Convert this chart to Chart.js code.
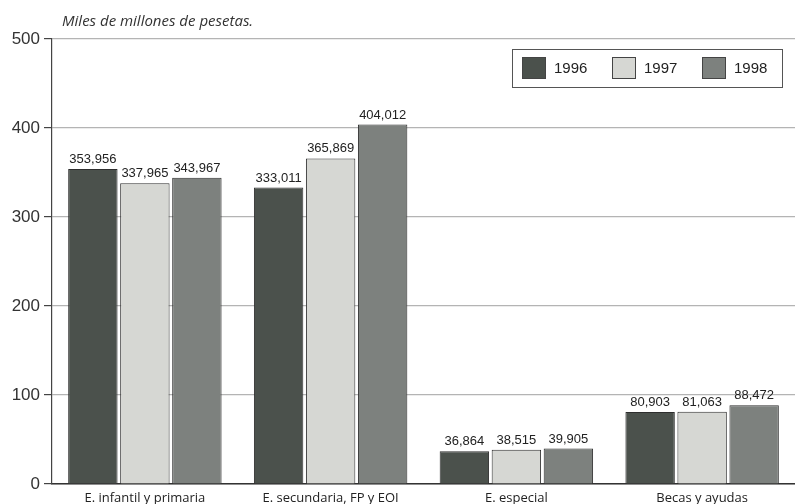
<!DOCTYPE html>
<html>
<head>
<meta charset="utf-8">
<script src="https://cdn.jsdelivr.net/npm/chart.js@4/dist/chart.umd.min.js"></script>
<style>
  html, body { margin: 0; padding: 0; background: #fff; }
  #wrap { position: relative; width: 795px; height: 504px; }
</style>
</head>
<body>
<div id="wrap"><canvas id="c" width="795" height="504"></canvas></div>
<script>
const categories = ["E. infantil y primaria", "E. secundaria, FP y EOI", "E. especial", "Becas y ayudas"];
const seriesNames = ["1996", "1997", "1998"];
const values1996 = [353.956, 333.011, 36.864, 80.903];
const values1997 = [337.965, 365.869, 38.515, 81.063];
const values1998 = [343.967, 404.012, 39.905, 88.472];
const yTicks = [0, 100, 200, 300, 400, 500];
const unitLabel = "Miles de millones de pesetas.";

const colors = ["#4b514c", "#d6d7d3", "#7d817e"];
const seriesValues = [values1996, values1997, values1998];

function fmt(v) {
  return v.toFixed(3).replace('.', ',');
}

const labelsPlugin = {
  id: 'valueLabels',
  afterDatasetsDraw(chart) {
    const ctx = chart.ctx;
    ctx.save();
    ctx.font = '13px "Liberation Sans Narrow", "Liberation Sans", Arial, sans-serif';
    ctx.fillStyle = '#222';
    ctx.textAlign = 'center';
    ctx.textBaseline = 'bottom';
    chart.data.datasets.forEach((ds, i) => {
      const meta = chart.getDatasetMeta(i);
      meta.data.forEach((bar, j) => {
        ctx.fillText(fmt(ds.data[j]), bar.x, bar.y - 3);
      });
    });
    // unit label
    ctx.font = 'italic 15px "Open Sans", "DejaVu Sans", sans-serif';
    ctx.fillStyle = '#333';
    ctx.textAlign = 'left';
    ctx.textBaseline = 'middle';
    ctx.fillText(unitLabel, chart.chartArea.left + 10, 22);
    // legend box
    const lx = 512, ly = 49, lw = 270, lh = 38;
    ctx.strokeStyle = '#555';
    ctx.lineWidth = 1;
    ctx.strokeRect(lx + 0.5, ly + 0.5, lw, lh);
    ctx.font = '15px "Liberation Sans", Arial, sans-serif';
    ctx.textBaseline = 'middle';
    const itemX = [lx + 10, lx + 100, lx + 190];
    chart.data.datasets.forEach((ds, i) => {
      const x = itemX[i];
      ctx.fillStyle = ds.backgroundColor;
      ctx.fillRect(x, ly + 8, 24, 22);
      ctx.strokeStyle = '#444';
      ctx.strokeRect(x + 0.5, ly + 8.5, 23, 21);
      ctx.fillStyle = '#222';
      ctx.fillText(ds.label, x + 32, ly + lh / 2 + 1);
    });
    ctx.restore();
  }
};

new Chart(document.getElementById('c'), {
  type: 'bar',
  data: {
    labels: categories,
    datasets: seriesNames.map((name, i) => ({
      label: name,
      data: seriesValues[i],
      backgroundColor: colors[i],
      borderColor: '#2e2e2e',
      borderWidth: 1,
      categoryPercentage: 0.84,
      barPercentage: 0.95
    }))
  },
  options: {
    responsive: false,
    animation: false,
    layout: { padding: { top: 39, right: -8, left: 0, bottom: 0 } },
    plugins: {
      legend: { display: false },
      tooltip: { enabled: false }
    },
    scales: {
      x: {
        grid: { display: false, drawTicks: false, tickLength: 0 },
        border: { display: true, color: '#333', width: 1.5 },
        ticks: {
          color: '#222',
          padding: 6,
          font: { family: '"Open Sans", "DejaVu Sans", sans-serif', size: 13 }
        },
        afterFit(scale) { scale.height = 20; }
      },
      y: {
        min: 0,
        max: 500,
        afterBuildTicks(scale) { scale.ticks = yTicks.map(v => ({ value: v })); },
        grid: { color: '#b4b4b4', lineWidth: 1.2, tickLength: 8, tickColor: '#444' },
        border: { display: true, color: '#444', width: 1.2 },
        ticks: {
          color: '#333',
          padding: 4,
          font: { family: '"Liberation Sans", Arial, sans-serif', size: 17 }
        },
        afterFit(scale) { scale.width = 52; }
      }
    }
  },
  plugins: [labelsPlugin]
});
</script>
</body>
</html>
